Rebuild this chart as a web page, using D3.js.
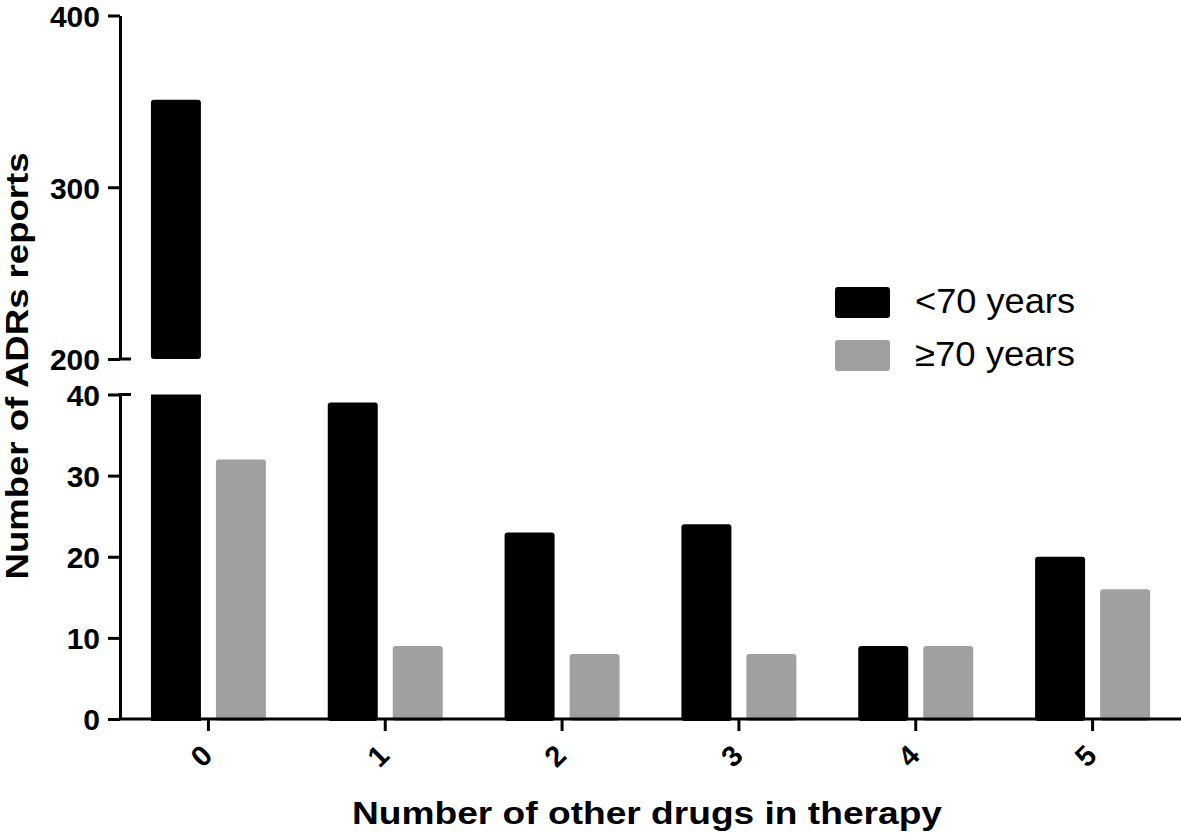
<!DOCTYPE html>
<html>
<head>
<meta charset="utf-8">
<script src="https://cdn.jsdelivr.net/npm/d3@7"></script>
<style>
  html, body { margin: 0; padding: 0; background: #fff; }
  svg { display: block; font-family: "Liberation Sans", Arial, sans-serif; }
</style>
</head>
<body>
<svg id="chart" width="1181" height="835"></svg>
<script>
const categories = ["0", "1", "2", "3", "4", "5"];
const series = ["<70 years", "\u226570 years"];
const under70 = [351, 39, 23, 24, 9, 20];
const over70 = [32, 9, 8, 8, 9, 16];
const lowTicks = [0, 10, 20, 30, 40];
const highTicks = [200, 300, 400];
const colors = ["#000000", "#a0a0a0"];

const svg = d3.select("#chart");
const axisX = 120, baseY = 719;

const x = d3.scaleBand().domain(categories).range([axisX, 1181]).padding(0);
const xSub = d3.scaleBand().domain(series).range([-57.5, 57.5]).paddingInner(15 / 65);
const yLow = d3.scaleLinear().domain([0, 40]).range([baseY, 394.5]);
const yHigh = d3.scaleLinear().domain([200, 400]).range([359, 15.5]);

const data = [];
categories.forEach((c, i) => {
  data.push({ cat: c, s: series[0], v: under70[i] });
  data.push({ cat: c, s: series[1], v: over70[i] });
});
const color = d3.scaleOrdinal().domain(series).range(colors);

// lower segment bars
const lowG = svg.append("g");
lowG.selectAll("rect").data(data).join("rect")
  .attr("x", d => x(d.cat) + x.bandwidth() / 2 + xSub(d.s))
  .attr("width", xSub.bandwidth())
  .attr("y", d => yLow(Math.min(d.v, 40)))
  .attr("height", d => baseY - yLow(Math.min(d.v, 40)) + 2)
  .attr("rx", d => d.v > 40 ? 0 : 3)
  .attr("fill", d => color(d.s));

// upper segment bars
const highG = svg.append("g");
highG.selectAll("rect").data(data.filter(d => d.v > 200)).join("rect")
  .attr("x", d => x(d.cat) + x.bandwidth() / 2 + xSub(d.s))
  .attr("width", xSub.bandwidth())
  .attr("y", d => yHigh(d.v))
  .attr("height", d => yHigh(200) - yHigh(d.v))
  .attr("rx", 3)
  .attr("fill", d => color(d.s));

// axes
function styleAxis(g) {
  g.selectAll("path, line").attr("stroke", "#000").attr("stroke-width", 3);
  g.selectAll("text").attr("fill", "#000").attr("font-weight", "bold")
    .attr("font-family", "'Liberation Sans', Arial, sans-serif");
}

const gLow = svg.append("g").attr("transform", `translate(${axisX},0)`)
  .call(d3.axisLeft(yLow).tickValues(lowTicks).tickSize(12).tickSizeOuter(0).tickPadding(8).tickFormat(d3.format("d")));
styleAxis(gLow);
gLow.selectAll("text").attr("font-size", 30).attr("dy", "0.36em");

const gHigh = svg.append("g").attr("transform", `translate(${axisX},0)`)
  .call(d3.axisLeft(yHigh).tickValues(highTicks).tickSize(12).tickSizeOuter(0).tickPadding(8).tickFormat(d3.format("d")));
styleAxis(gHigh);
gHigh.selectAll("text").attr("font-size", 30).attr("dy", "0.36em");

// break caps
svg.append("line").attr("x1", axisX - 1.5).attr("x2", axisX + 11)
  .attr("y1", yLow(40)).attr("y2", yLow(40)).attr("stroke", "#000").attr("stroke-width", 3);
svg.append("line").attr("x1", axisX - 1.5).attr("x2", axisX + 11)
  .attr("y1", yHigh(200)).attr("y2", yHigh(200)).attr("stroke", "#000").attr("stroke-width", 3);

const gX = svg.append("g").attr("transform", `translate(0,${baseY})`)
  .call(d3.axisBottom(x).tickSize(12).tickSizeOuter(0));
styleAxis(gX);
gX.select(".domain").attr("d", `M${axisX - 1.5},0H1181`);
gX.selectAll(".tick text")
  .attr("font-size", 29)
  .attr("text-anchor", "middle")
  .attr("dy", null)
  .attr("y", null)
  .attr("dominant-baseline", "central")
  .attr("transform", "translate(-7,37) rotate(-45)");

// axis titles
svg.append("text")
  .attr("transform", "translate(28,366) rotate(-90)")
  .attr("text-anchor", "middle")
  .attr("font-size", 32).attr("font-weight", "bold")
  .attr("textLength", 427).attr("lengthAdjust", "spacingAndGlyphs")
  .text("Number of ADRs reports");

svg.append("text")
  .attr("x", 647).attr("y", 824)
  .attr("text-anchor", "middle")
  .attr("font-size", 31).attr("font-weight", "bold")
  .attr("textLength", 590).attr("lengthAdjust", "spacingAndGlyphs")
  .text("Number of other drugs in therapy");

// legend
const legendY = [287, 340];
const textY = [313, 366];
const leg = svg.append("g");
series.forEach((s, i) => {
  leg.append("rect").attr("x", 835).attr("y", legendY[i]).attr("width", 55).attr("height", 31)
    .attr("rx", 3).attr("fill", color(s));
  leg.append("text").attr("x", 915).attr("y", textY[i])
    .attr("font-size", 35)
    .attr("textLength", 160).attr("lengthAdjust", "spacingAndGlyphs")
    .text(s);
});
</script>
</body>
</html>
